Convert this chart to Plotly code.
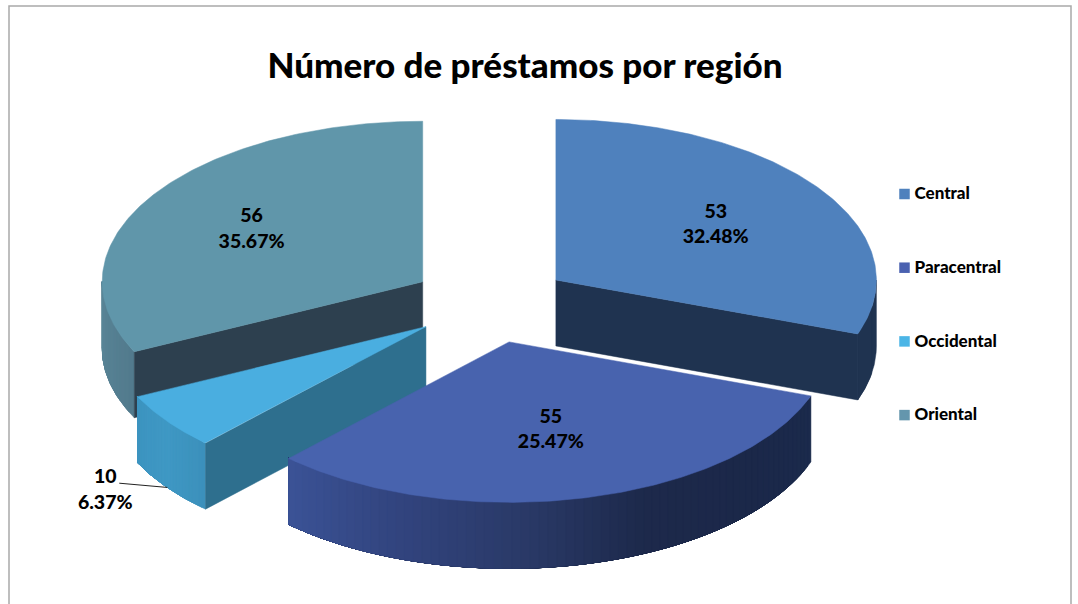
import math
import plotly.graph_objects as go

# --- data ---
TITLE = "Número de préstamos por región"
categories = ["Central", "Paracentral", "Occidental", "Oriental"]
counts = [53, 55, 10, 56]
percent_labels = ["32.48%", "25.47%", "6.37%", "35.67%"]

# --- styles ---
top_colors = ["#4f81bd", "#4863ae", "#4aaee0", "#6096aa"]
legend_colors = ["#4f81bd", "#4a61b0", "#4bb5e6", "#6496ad"]
# wall colours run clockwise along each slice's outer rim
wall_stops = [
    ["#1f3350", "#1f3350"],
    ["#1b2a4c", "#1b2849", "#1d294b", "#2a3a68", "#32447f", "#3b5396"],
    ["#3c90bb", "#3f98c4", "#3d94c0"],
    ["#527a8c", "#5a8699"],
]
face_colors = ["#1f3350", None, "#2e6f8e", "#2d404f"]
TEXT = "#000000"
FONT = "Lato"

# --- projection of the tilted pie, in the pixel-sized axis space ---
CX, CY, RX, RY, DEPTH, EXPLODE = 490.5, 303, 320.5, 160.5, 66, 80
LABEL_RADIUS = [0.61, 0.56, 1.24, 0.63]
LABEL_DROP = [2, 1, 47, 2]
LEGEND_X, LEGEND_Y0, LEGEND_STEP = 904.5, 194, 73.7


def rim(apex, deg, drop=0):
    a = math.radians(deg)
    return apex[0] + RX * math.sin(a), apex[1] - RY * math.cos(a) + drop


def arc(apex, a0, a1, drop=0, n=60):
    pts = [rim(apex, a0 + (a1 - a0) * i / n, drop) for i in range(n + 1)]
    return [p[0] for p in pts], [p[1] for p in pts]


def poly(xs, ys, color):
    return go.Scatter(x=xs + xs[:1], y=ys + ys[:1], mode="lines", fill="toself",
                      fillcolor=color, line=dict(color=color, width=0.5),
                      hoverinfo="skip", showlegend=False)


def hex_mix(stops, t):
    pos = t * (len(stops) - 1)
    i = min(int(pos), len(stops) - 2)
    f = pos - i
    c0 = [int(stops[i][k:k + 2], 16) for k in (1, 3, 5)]
    c1 = [int(stops[i + 1][k:k + 2], 16) for k in (1, 3, 5)]
    return "#%02x%02x%02x" % tuple(round(a + (b - a) * f) for a, b in zip(c0, c1))


total = sum(counts)
spans, start = [], 0.0
for c in counts:
    spans.append((start, start + 360 * c / total))
    start += 360 * c / total

apexes, mids = [], []
for a0, a1 in spans:
    mid = (a0 + a1) / 2
    mids.append(mid)
    r = math.radians(mid)
    apexes.append((CX + EXPLODE * math.sin(r), CY - EXPLODE / 2 * math.cos(r)))


def wall(i, a0, a1, strips=48):
    # each strip reaches to the far end of the wall, so later strips paint over
    # it and no seams show between neighbours
    out = []
    for s in range(strips):
        b0 = a0 + (a1 - a0) * s / strips
        x0, y0 = arc(apexes[i], b0, a1, 0, 40)
        x1, y1 = arc(apexes[i], b0, a1, DEPTH, 40)
        out.append(poly(x0 + x1[::-1], y0 + y1[::-1], hex_mix(wall_stops[i], (s + .5) / strips)))
    return out


def face(i, deg):
    ax, ay = apexes[i]
    rx, ry = rim(apexes[i], deg)
    return poly([ax, rx, rx, ax], [ay, ry, ry + DEPTH, ay + DEPTH], face_colors[i])


def top(i):
    xs, ys = arc(apexes[i], *spans[i], 0, 160)
    return poly([apexes[i][0]] + xs, [apexes[i][1]] + ys, top_colors[i])


traces = []
# Oriental (back left)
traces += wall(3, spans[3][0], 270, 12)
traces.append(face(3, spans[3][0]))
traces.append(top(3))
# Central (back right)
traces.append(face(0, spans[0][1]))
traces += wall(0, 90, spans[0][1], 2)
traces.append(top(0))
# Occidental
traces += wall(2, *spans[2], 24)
traces.append(face(2, spans[2][0]))
traces.append(top(2))
# Paracentral (front)
traces += wall(1, *spans[1], 70)
traces.append(top(1))

# leader line of the small slice
i = 2
lr = math.radians(mids[i])
lab_x = apexes[i][0] + RX * LABEL_RADIUS[i] * math.sin(lr)
lab_y = apexes[i][1] - RY * LABEL_RADIUS[i] * math.cos(lr)
end = rim(apexes[i], mids[i], DEPTH)
traces.append(go.Scatter(x=[lab_x + 14, end[0]], y=[lab_y + LABEL_DROP[i] - 8, end[1]], mode="lines",
                         line=dict(color="#222222", width=1), hoverinfo="skip", showlegend=False))

# value labels
lx, ly, lt = [], [], []
for i, (c, p) in enumerate(zip(counts, percent_labels)):
    r = math.radians(mids[i])
    lx.append(apexes[i][0] + RX * LABEL_RADIUS[i] * math.sin(r))
    ly.append(apexes[i][1] - RY * LABEL_RADIUS[i] * math.cos(r) + LABEL_DROP[i])
    lt.append(f"{c}<br>{p}")
traces.append(go.Scatter(x=lx, y=ly, mode="text", text=lt, textposition="middle center",
                         textfont=dict(family=FONT, size=19.5, color=TEXT, weight=900),
                         hoverinfo="skip", showlegend=False))

# key
key_y = [LEGEND_Y0 + LEGEND_STEP * k for k in range(len(categories))]
traces.append(go.Scatter(
    x=[LEGEND_X] * len(categories), y=key_y, mode="markers",
    marker=dict(symbol="square", size=10.5, color=legend_colors),
    hoverinfo="skip", showlegend=False))
traces.append(go.Scatter(
    x=[LEGEND_X + 10] * len(categories), y=[v + 1 for v in key_y], mode="text",
    text=categories, textposition="middle right",
    textfont=dict(family=FONT, size=17, color=TEXT, weight=900),
    hoverinfo="skip", showlegend=False))

fig = go.Figure(traces)
fig.update_layout(
    width=1078, height=604, margin=dict(l=0, r=0, t=0, b=0),
    paper_bgcolor="#ffffff", plot_bgcolor="#ffffff", showlegend=False,
    title=dict(text=TITLE, x=525 / 1078, xanchor="center", xref="paper",
               y=1 - 66 / 604, yanchor="middle", yref="paper",
               font=dict(family=FONT, size=35, color=TEXT, weight=900)),
    shapes=[dict(type="rect", xref="x", yref="y", x0=9, y0=6, x1=1071, y1=640,
                 line=dict(color="#a9a9a9", width=1.5), fillcolor="rgba(0,0,0,0)")],
)
fig.update_xaxes(range=[0, 1078], visible=False, fixedrange=True)
fig.update_yaxes(range=[604, 0], visible=False, fixedrange=True)
fig.write_html("out.html", config={"displayModeBar": False},
               post_script="document.body.style.margin='0';document.body.style.overflow='hidden';")
